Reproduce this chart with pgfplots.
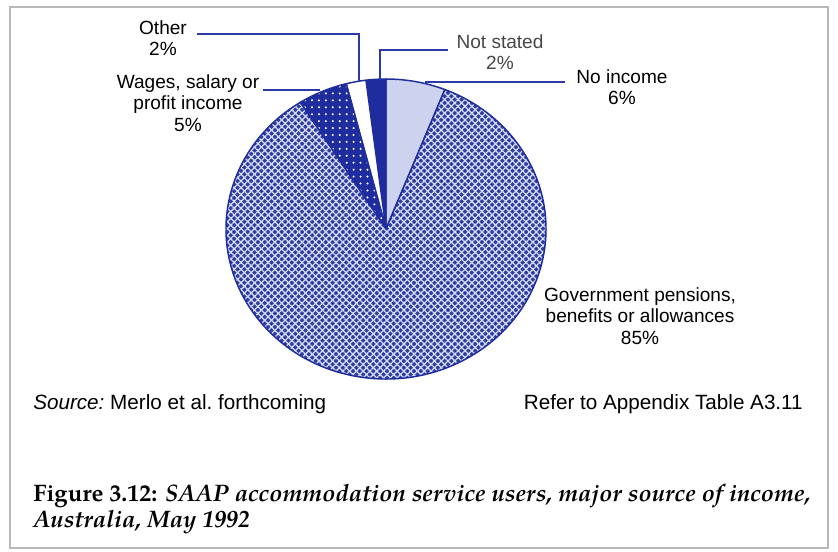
\documentclass[border=0pt]{standalone}
\usepackage{pgfplots}
\pgfplotsset{compat=1.18}
\usepackage{pgfplotstable}
\usetikzlibrary{patterns.meta}
\usepackage{fontspec}
\setmainfont{Liberation Sans}
\newfontfamily\capfont{texgyrepagella}[Extension=.otf, UprightFont=*-regular, BoldFont=*-bold, ItalicFont=*-italic, BoldItalicFont=*-bolditalic]

\definecolor{dblue}{HTML}{1E2C9E}
\definecolor{lightsl}{HTML}{CDD2EE}
\definecolor{hatchblue}{HTML}{2E3DA2}
\definecolor{hatchwhite}{HTML}{D8DCF4}
\definecolor{leader}{HTML}{2B3AA8}

\pgfplotstableread[col sep=comma]{
label,value
No income,6
Not stated,2
Other,2
Wages,5
Government,85
}\piedata

\tikzset{
 slice0/.style={fill=lightsl, draw=dblue, line width=1.1pt, line join=round},
 slice1/.style={fill=dblue, draw=dblue, line width=1.1pt, line join=round},
 slice2/.style={fill=white, draw=dblue, line width=1.1pt, line join=round},
 slice3/.style={preaction={fill=dblue}, preaction={pattern={Dots[distance=5.2pt, radius=0.85pt]}, pattern color=white}, draw=dblue, line width=1.1pt, line join=round},
 slice4/.style={preaction={fill=hatchblue},
   preaction={pattern={Lines[angle=45,distance=3.6pt,line width=0.95pt]}, pattern color=hatchwhite},
   preaction={pattern={Lines[angle=-45,distance=3.6pt,line width=0.95pt]}, pattern color=hatchwhite},
   draw=dblue, line width=1.1pt, line join=round},
 lab/.style={font=\fontsize{14.3}{16}\selectfont, align=center, inner sep=0pt},
 ldr/.style={draw=leader, line width=1.3pt},
}

\begin{document}
\begin{tikzpicture}
\begin{axis}[
  scale only axis, width=628.5pt, height=413.25pt,
  xmin=0, xmax=838, ymin=0, ymax=551, y dir=reverse,
  hide axis, clip=false,
]
\addplot[draw=none, forget plot] coordinates {(0,0) (838,551)};
\pgfplotsextra{
  \path (axis cs:0,0) rectangle (axis cs:838,551);
  \pgfplotstablegetrowsof{\piedata}\pgfmathtruncatemacro\nrows{\pgfplotsretval-1}
  \pgfplotstablegetelem{0}{value}\of\piedata
  \pgfmathsetmacro\angA{90-\pgfplotsretval*3.6}\xdef\angA{\angA}
  \foreach \r in {0,...,\nrows}{
    \pgfplotstablegetelem{\r}{value}\of\piedata
    \pgfmathsetmacro\angB{\angA+\pgfplotsretval*3.6}
    \path[slice\r] (axis cs:386,229) -- ++(\angA:120pt and 112.5pt)
       arc[start angle=\angA, end angle=\angB, x radius=120pt, y radius=112.5pt] -- cycle;
    \xdef\angA{\angB}
  }
  % frame
  \draw[gray!55, line width=1.2pt] (axis cs:10,7) rectangle (axis cs:828,548);
  % leader lines
  \draw[ldr] (axis cs:197,34) -- (axis cs:359,34) -- (axis cs:359,82);
  \draw[ldr] (axis cs:448,50) -- (axis cs:380,50) -- (axis cs:380,80);
  \draw[ldr] (axis cs:425,82) -- (axis cs:565,82);
  \draw[ldr] (axis cs:263,90) -- (axis cs:320,90);
  % labels
  \node[lab] at (axis cs:163,38) {Other\\2\%};
  \node[lab] at (axis cs:188,103) {Wages, salary or\\profit income\\5\%};
  \node[lab, text=black!72] at (axis cs:500,52) {Not stated\\2\%};
  \node[lab] at (axis cs:622,87) {No income\\6\%};
  \node[lab] at (axis cs:640,316) {Government pensions,\\benefits or allowances\\85\%};
  \node[anchor=west, inner sep=0pt, font=\fontsize{15.5}{18}\selectfont] at (axis cs:33,404) {\textit{Source:}~Merlo et al.\ forthcoming};
  \node[anchor=east, inner sep=0pt, font=\fontsize{15.5}{18}\selectfont] at (axis cs:803,404) {Refer to Appendix Table A3.11};
  \node[anchor=west, inner sep=0pt, align=left, font=\capfont\bfseries\fontsize{17.9}{16.5}\selectfont] at (axis cs:33,509)
    {Figure 3.12: \textit{SAAP accommodation service users, major source of income,}\\\textit{Australia, May 1992}};
}
\end{axis}
\end{tikzpicture}
\end{document}
